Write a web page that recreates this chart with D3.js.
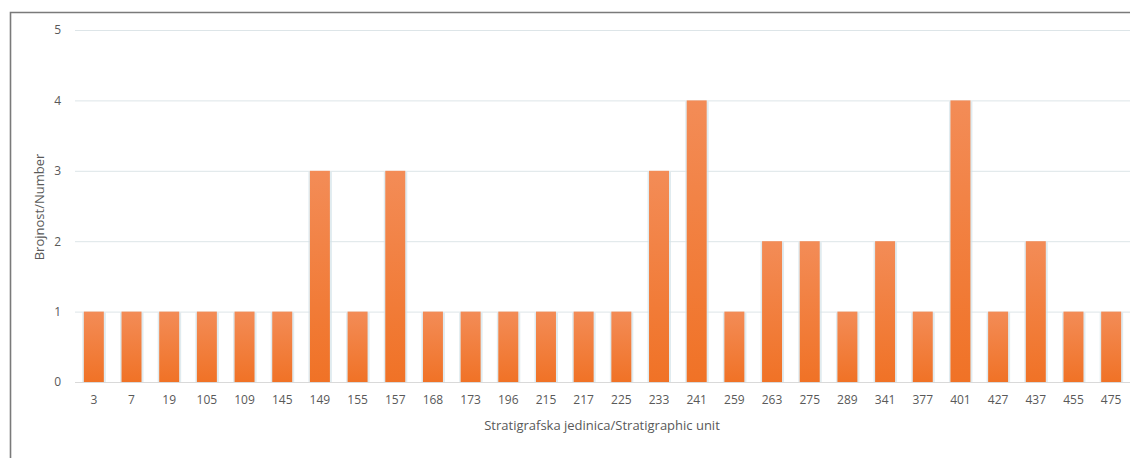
<!DOCTYPE html>
<html>
<head>
<meta charset="utf-8">
<script src="https://cdn.jsdelivr.net/npm/d3@7"></script>
<style>
  html, body { margin: 0; padding: 0; background: #fff; }
  svg { display: block; }
  text { font-family: "Open Sans", "Noto Sans", sans-serif; fill: #595959; }
</style>
</head>
<body>
<svg id="chart" width="1130" height="458"></svg>
<script>
// Stratigraphic units and the number of finds in each
const units = ["3","7","19","105","109","145","149","155","157","168","173","196","215","217","225","233","241","259","263","275","289","341","377","401","427","437","455","475"];
const counts = [1,1,1,1,1,1,3,1,3,1,1,1,1,1,1,3,4,1,2,2,1,2,1,4,1,2,1,1];
const yTicks = [0,1,2,3,4,5];

const svg = d3.select("#chart");
const W = 1130, H = 458;

// frame around the chart area (top and left edges visible)
svg.append("path")
  .attr("d", `M10.5,${H} L10.5,12.5 L${W},12.5`)
  .attr("fill", "none").attr("stroke", "#7a7a7a").attr("stroke-width", 1.6);

const x = d3.scaleBand().domain(units).range([75, 1130]).paddingInner(0.47).paddingOuter(0.235);
const y = d3.scaleLinear().domain([0, 5]).range([382, 30]);

// vertical gradient for bars
const defs = svg.append("defs");
const grad = defs.append("linearGradient").attr("id", "barGrad")
  .attr("x1", 0).attr("y1", 0).attr("x2", 0).attr("y2", 1);
grad.append("stop").attr("offset", "0%").attr("stop-color", "#f38c57");
grad.append("stop").attr("offset", "100%").attr("stop-color", "#f07226");

// gridlines
const grid = svg.append("g").attr("transform", "translate(75,0)")
  .call(d3.axisLeft(y).tickValues(yTicks).tickSize(-(W - 75)).tickFormat(""));
grid.select(".domain").remove();
grid.selectAll("line").attr("stroke", "#dde5e8").attr("stroke-width", 1);

// y tick labels
const yAxis = svg.append("g").attr("transform", "translate(64,0)")
  .call(d3.axisLeft(y).tickValues(yTicks).tickSize(0).tickFormat(d3.format("d")));
yAxis.select(".domain").remove();
yAxis.selectAll("text").attr("font-size", 12).attr("fill", "#595959").attr("text-anchor", "end").attr("dx", 0);

// soft bluish shadow around bars
svg.append("g").selectAll("rect").data(units).join("rect")
  .attr("x", d => x(d) - 1.5)
  .attr("y", (d, i) => y(counts[i]) + 1)
  .attr("width", x.bandwidth() + 3.5)
  .attr("height", (d, i) => y(0) - y(counts[i]) - 1)
  .attr("fill", "#d3e3e8").attr("opacity", 0.7);

// bars
svg.append("g").selectAll("rect").data(units).join("rect")
  .attr("x", d => x(d))
  .attr("y", (d, i) => y(counts[i]))
  .attr("width", x.bandwidth())
  .attr("height", (d, i) => y(0) - y(counts[i]))
  .attr("fill", "url(#barGrad)");

// x axis
const xAxis = svg.append("g").attr("transform", `translate(0,${y(0)})`)
  .call(d3.axisBottom(x).tickSize(0).tickPadding(13));
xAxis.select(".domain").attr("stroke", "#d9d9d9").attr("d", `M75,0.5H${W}`);
xAxis.selectAll("text").attr("font-size", 12).attr("fill", "#595959");

// axis titles
svg.append("text")
  .attr("x", 602).attr("y", 430)
  .attr("text-anchor", "middle").attr("font-size", 13)
  .text("Stratigrafska jedinica/Stratigraphic unit");

svg.append("text")
  .attr("transform", "translate(44,207) rotate(-90)")
  .attr("text-anchor", "middle").attr("font-size", 13)
  .text("Brojnost/Number");
</script>
</body>
</html>
